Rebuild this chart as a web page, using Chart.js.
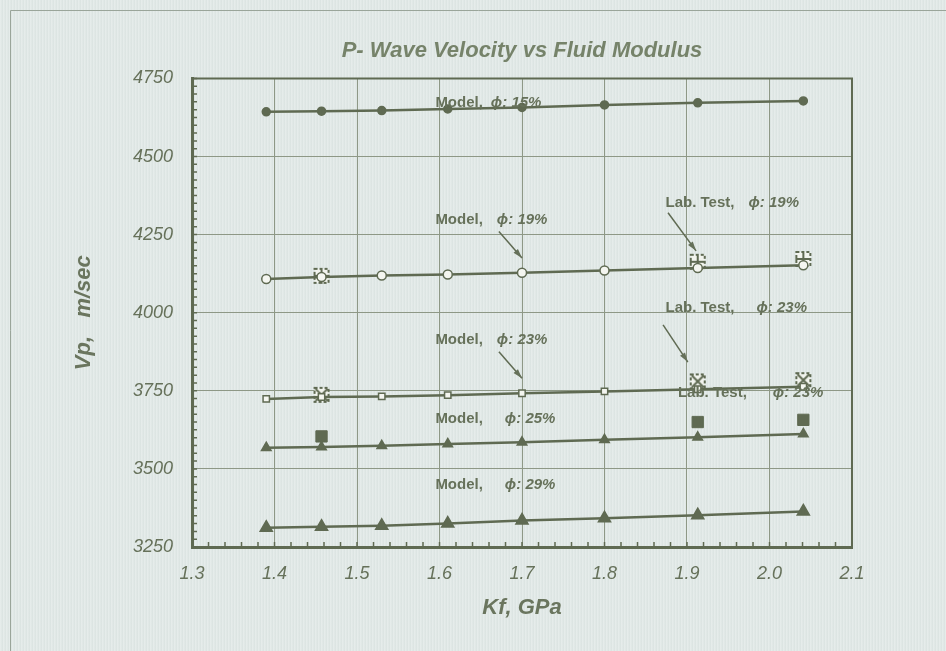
<!DOCTYPE html>
<html>
<head>
<meta charset="utf-8">
<script src="https://cdn.jsdelivr.net/npm/chart.js@4"></script>
<style>
  html, body { margin: 0; padding: 0; }
  body {
    width: 946px; height: 651px; overflow: hidden;
    background-color: #e0e8e6;
    background-image: repeating-linear-gradient(90deg, rgba(255,255,255,0.18) 0px, rgba(255,255,255,0.18) 1px, rgba(150,165,160,0.05) 2px, rgba(150,165,160,0.05) 3px);
  }
  #wrap { position: relative; width: 946px; height: 651px; }
</style>
</head>
<body>
<div id="wrap"><canvas id="chart" width="946" height="651"></canvas></div>
<script>
// Kf (GPa) where the model was evaluated
const kf = [1.39, 1.457, 1.53, 1.61, 1.70, 1.80, 1.913, 2.041];
// model Vp (m/sec) for each porosity
const model15 = [4643, 4645, 4647, 4652, 4657, 4665, 4672, 4678];
const model19 = [4108, 4114, 4119, 4122, 4128, 4135, 4143, 4152];
const model23 = [3724, 3730, 3732, 3736, 3742, 3748, 3755, 3763];
const model25 = [3568, 3570, 3574, 3580, 3585, 3593, 3601, 3612];
const model29 = [3312, 3315, 3318, 3325, 3335, 3342, 3352, 3364];
// lab tests
const labKf = [1.457, 1.913, 2.041];
const lab19 = [4118, 4163, 4172];
const lab23 = [3737, 3780, 3784];
const lab25 = [3604, 3650, 3657];

const xTicks = [1.3, 1.4, 1.5, 1.6, 1.7, 1.8, 1.9, 2.0, 2.1];
const yTicks = [3250, 3500, 3750, 4000, 4250, 4500, 4750];

// callouts: text, anchor (data coords), optional arrow [x1,y1,x2,y2] in data coords
const notes = [
  { a: "Model,", b: "\u03d5: 15%", x: 1.595, y: 4673, gap: 8 },
  { a: "Model,", b: "\u03d5: 19%", x: 1.595, y: 4298, gap: 14, arrow: [1.672, 4260, 1.700, 4175] },
  { a: "Lab. Test,", b: "\u03d5: 19%", x: 1.874, y: 4353, gap: 14, arrow: [1.877, 4320, 1.911, 4198] },
  { a: "Model,", b: "\u03d5: 23%", x: 1.595, y: 3913, gap: 14, arrow: [1.672, 3875, 1.700, 3790] },
  { a: "Lab. Test,", b: "\u03d5: 23%", x: 1.874, y: 4016, gap: 22, arrow: [1.871, 3961, 1.901, 3842] },
  { a: "Lab. Test,", b: "\u03d5: 23%", x: 1.889, y: 3744, gap: 26 },
  { a: "Model,", b: "\u03d5: 25%", x: 1.595, y: 3661, gap: 22 },
  { a: "Model,", b: "\u03d5: 29%", x: 1.595, y: 3449, gap: 22 }
];

const ink = "#5f6a52";
const text = "#66715a";
const gridCol = "#8e9886";
const FONT = "'Liberation Sans', Arial, sans-serif";

function pts(xs, ys) { return xs.map((x, i) => ({ x: x, y: ys[i] })); }

function markImg(kind) {
  const c = document.createElement("canvas");
  c.width = 18; c.height = 18;
  const g = c.getContext("2d");
  g.strokeStyle = ink; g.lineWidth = 2;
  g.fillStyle = "#f2f4ee";
  g.fillRect(2, 2, 14, 14);
  g.setLineDash([3, 2]);
  g.strokeRect(2, 2, 14, 14);
  g.setLineDash([]);
  g.beginPath();
  if (kind === "plus") { g.moveTo(9, 1); g.lineTo(9, 17); g.moveTo(1, 9); g.lineTo(17, 9); }
  else { g.moveTo(3, 3); g.lineTo(15, 15); g.moveTo(15, 3); g.lineTo(3, 15); }
  g.stroke();
  return c;
}

const decor = {
  id: "decor",
  beforeDatasetsDraw(chart) {
    const { ctx, chartArea: a, scales } = chart;
    ctx.save();
    // faint outer frame
    ctx.strokeStyle = "#9aa59a"; ctx.lineWidth = 1;
    ctx.beginPath(); ctx.moveTo(10.5, 651); ctx.lineTo(10.5, 10.5); ctx.lineTo(946, 10.5); ctx.stroke();
    // plot frame
    ctx.strokeStyle = ink; ctx.lineWidth = 2;
    ctx.beginPath(); ctx.moveTo(a.left, a.top); ctx.lineTo(a.right, a.top); ctx.lineTo(a.right, a.bottom); ctx.stroke();
    // minor ticks
    ctx.lineWidth = 1.5;
    ctx.beginPath();
    for (let v = 3250; v <= 4750; v += 25) {
      const py = scales.y.getPixelForValue(v);
      ctx.moveTo(a.left, py); ctx.lineTo(a.left + 5, py);
    }
    for (let k = 65; k <= 105; k++) {
      const px = scales.x.getPixelForValue(k / 50);
      ctx.moveTo(px, a.bottom); ctx.lineTo(px, a.bottom - 5);
    }
    ctx.stroke();
    ctx.restore();
  },
  afterDatasetsDraw(chart) {
    const { ctx, scales } = chart;
    ctx.save();
    ctx.fillStyle = text; ctx.strokeStyle = ink;
    ctx.textBaseline = "middle";
    notes.forEach(n => {
      const px = scales.x.getPixelForValue(n.x);
      const py = scales.y.getPixelForValue(n.y);
      ctx.font = "bold 15px " + FONT;
      ctx.fillText(n.a, px, py);
      const w = ctx.measureText(n.a).width;
      ctx.font = "italic bold 15px " + FONT;
      ctx.fillText(n.b, px + w + n.gap, py);
      if (n.arrow) {
        const x1 = scales.x.getPixelForValue(n.arrow[0]), y1 = scales.y.getPixelForValue(n.arrow[1]);
        const x2 = scales.x.getPixelForValue(n.arrow[2]), y2 = scales.y.getPixelForValue(n.arrow[3]);
        ctx.lineWidth = 1.5;
        ctx.beginPath(); ctx.moveTo(x1, y1); ctx.lineTo(x2, y2); ctx.stroke();
        const ang = Math.atan2(y2 - y1, x2 - x1);
        ctx.beginPath();
        ctx.moveTo(x2, y2);
        ctx.lineTo(x2 - 10 * Math.cos(ang - 0.3), y2 - 10 * Math.sin(ang - 0.3));
        ctx.lineTo(x2 - 10 * Math.cos(ang + 0.3), y2 - 10 * Math.sin(ang + 0.3));
        ctx.closePath(); ctx.fill();
      }
    });
    ctx.restore();
  }
};

const line = (data, style, r, fill) => ({
  data: data, showLine: true, borderColor: ink, borderWidth: 2.5,
  pointStyle: style, pointRadius: r, pointBackgroundColor: fill, pointBorderColor: ink, pointBorderWidth: 1.5
});

new Chart(document.getElementById("chart"), {
  type: "scatter",
  data: {
    datasets: [
      line(pts(kf, model15), "circle", 4, ink),
      line(pts(kf, model19), "circle", 4.5, "#f4f6f0"),
      line(pts(kf, model23), "rect", 4.5, "#f4f6f0"),
      line(pts(kf, model25), "triangle", 5.5, ink),
      line(pts(kf, model29), "triangle", 7, ink),
      { data: pts(labKf, lab19), pointStyle: markImg("plus") },
      { data: pts(labKf, lab23), pointStyle: markImg("x") },
      { data: pts(labKf, lab25), pointStyle: "rect", pointRadius: 8, pointBackgroundColor: ink, pointBorderColor: ink }
    ]
  },
  options: {
    responsive: false,
    animation: false,
    layout: { padding: { left: 0, right: 94, top: 0, bottom: 0 } },
    plugins: {
      legend: { display: false },
      tooltip: { enabled: false },
      title: {
        display: true, fullSize: false,
        text: "P- Wave Velocity vs Fluid Modulus",
        color: "#76836a",
        font: { family: FONT, size: 22, weight: "bold", style: "italic" },
        padding: { top: 38, bottom: 14 }
      }
    },
    scales: {
      x: {
        type: "linear", min: 1.3, max: 2.1,
        afterBuildTicks: s => { s.ticks = xTicks.map(v => ({ value: v })); },
        afterFit: s => { s.height = 104; },
        ticks: {
          color: text, padding: 16,
          font: { family: FONT, size: 18, style: "italic" },
          callback: v => v.toFixed(1)
        },
        grid: { color: gridCol, lineWidth: 1, drawTicks: false },
        border: { color: ink, width: 3 },
        title: {
          display: true, text: "Kf, GPa", color: "#6a755e",
          font: { family: FONT, size: 22, weight: "bold", style: "italic" },
          padding: { top: 0, bottom: 30 }
        }
      },
      y: {
        type: "linear", min: 3250, max: 4750,
        afterBuildTicks: s => { s.ticks = yTicks.map(v => ({ value: v })); },
        afterFit: s => { s.width = 192; },
        ticks: {
          color: text, padding: 19,
          font: { family: FONT, size: 18, style: "italic" },
          callback: v => String(v)
        },
        grid: { color: gridCol, lineWidth: 1, drawTicks: false },
        border: { color: ink, width: 3 },
        title: {
          display: true, text: "Vp,   m/sec", color: "#6a755e",
          font: { family: FONT, size: 22, weight: "bold", style: "italic" },
          padding: { top: 71, bottom: 0 }
        }
      }
    }
  },
  plugins: [decor]
});
</script>
</body>
</html>
